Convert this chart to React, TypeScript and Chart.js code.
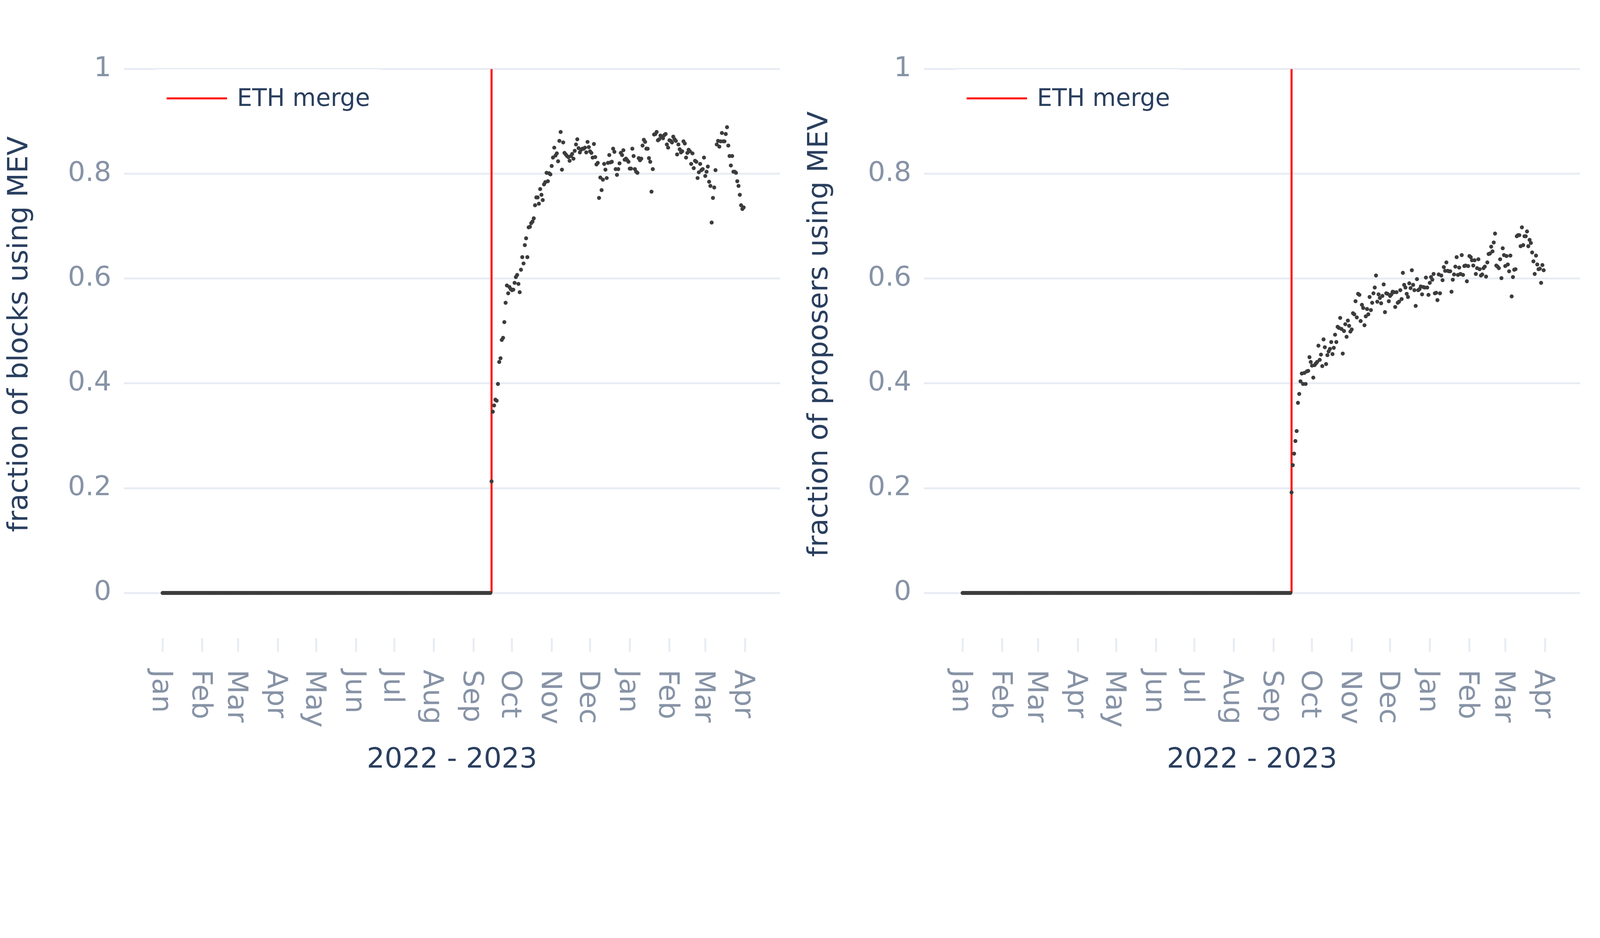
import React, { useEffect, useRef } from "react";
import { Chart, registerables } from "chart.js";

Chart.register(...registerables);

const FONT = '"DejaVu Sans", sans-serif';
const TICK_COLOR = "#8793a6";
const TITLE_COLOR = "#2a3f5f";
const GRID_COLOR = "#e8ecf4";
const DOT_COLOR = "#3c3c3c";

// x values are days counted from 2022-01-01
const MONTH_LABELS = ["Jan", "Feb", "Mar", "Apr", "May", "Jun", "Jul", "Aug", "Sep", "Oct", "Nov", "Dec", "Jan", "Feb", "Mar", "Apr"];
const MONTH_TICKS = [0, 31, 59, 90, 120, 151, 181, 212, 243, 273, 304, 334, 365, 396, 424, 455];
const Y_TICKS = [0, 0.2, 0.4, 0.6, 0.8, 1];
const X_TITLE = "2022 - 2023";
const MERGE_LABEL = "ETH merge";
const MERGE_DAY = 257; // 2022-09-15

// no MEV at all before the merge: one zero per day
const preMerge = new Array(MERGE_DAY).fill(0);

// daily values from the merge day on
const blocksAfterMerge = [
  0.213, 0.346, 0.358, 0.369, 0.367, 0.399, 0.441, 0.448, 0.483, 0.487,
  0.517, 0.554, 0.587, 0.572, 0.584, 0.58, 0.578, 0.579, 0.592, 0.603,
  0.607, 0.59, 0.574, 0.617, 0.641, 0.629, 0.664, 0.677, 0.641, 0.698,
  0.699, 0.706, 0.709, 0.715, 0.74, 0.755, 0.755, 0.743, 0.771, 0.76,
  0.75, 0.78, 0.784, 0.802, 0.786, 0.801, 0.799, 0.815, 0.831, 0.85,
  0.835, 0.839, 0.824, 0.863, 0.88, 0.808, 0.86, 0.84, 0.837, 0.834,
  0.832, 0.825, 0.834, 0.838, 0.829, 0.844, 0.856, 0.866, 0.849, 0.841,
  0.846, 0.848, 0.848, 0.85, 0.841, 0.861, 0.851, 0.843, 0.84, 0.831,
  0.857, 0.832, 0.818, 0.821, 0.754, 0.793, 0.769, 0.789, 0.819, 0.808,
  0.792, 0.821, 0.836, 0.822, 0.823, 0.848, 0.842, 0.809, 0.798, 0.809,
  0.82, 0.84, 0.836, 0.845, 0.827, 0.829, 0.826, 0.823, 0.81, 0.81,
  0.848, 0.834, 0.809, 0.804, 0.802, 0.83, 0.826, 0.829, 0.854, 0.865,
  0.861, 0.848, 0.848, 0.83, 0.823, 0.766, 0.809, 0.875, 0.876, 0.88,
  0.864, 0.866, 0.873, 0.871, 0.868, 0.874, 0.876, 0.856, 0.85, 0.864,
  0.863, 0.86, 0.871, 0.866, 0.863, 0.837, 0.856, 0.847, 0.841, 0.843,
  0.862, 0.858, 0.831, 0.84, 0.846, 0.843, 0.819, 0.839, 0.811, 0.825,
  0.823, 0.792, 0.803, 0.819, 0.807, 0.809, 0.831, 0.796, 0.804, 0.814,
  0.785, 0.777, 0.707, 0.754, 0.774, 0.807, 0.856, 0.863, 0.852, 0.862,
  0.878, 0.862, 0.862, 0.876, 0.889, 0.854, 0.834, 0.816, 0.834, 0.804,
  0.804, 0.802, 0.786, 0.777, 0.76, 0.74, 0.733, 0.736,
];

const proposersAfterMerge = [
  0.192, 0.244, 0.266, 0.29, 0.309, 0.363, 0.38, 0.404, 0.419, 0.399,
  0.42, 0.399, 0.423, 0.424, 0.45, 0.441, 0.434, 0.411, 0.435, 0.438,
  0.441, 0.472, 0.445, 0.455, 0.433, 0.484, 0.469, 0.437, 0.454, 0.461,
  0.466, 0.479, 0.456, 0.468, 0.493, 0.479, 0.508, 0.506, 0.525, 0.504,
  0.457, 0.5, 0.513, 0.489, 0.52, 0.51, 0.499, 0.503, 0.534, 0.532,
  0.557, 0.526, 0.571, 0.569, 0.519, 0.55, 0.544, 0.511, 0.528, 0.542,
  0.532, 0.565, 0.54, 0.554, 0.572, 0.583, 0.606, 0.556, 0.57, 0.563,
  0.553, 0.567, 0.589, 0.536, 0.572, 0.571, 0.557, 0.567, 0.57, 0.575,
  0.574, 0.546, 0.574, 0.554, 0.556, 0.578, 0.561, 0.611, 0.588, 0.583,
  0.571, 0.565, 0.591, 0.582, 0.616, 0.588, 0.578, 0.548, 0.599, 0.578,
  0.58, 0.585, 0.57, 0.584, 0.583, 0.602, 0.583, 0.569, 0.592, 0.603,
  0.598, 0.609, 0.572, 0.573, 0.559, 0.608, 0.572, 0.606, 0.597, 0.622,
  0.615, 0.631, 0.615, 0.614, 0.614, 0.575, 0.598, 0.608, 0.623, 0.641,
  0.607, 0.621, 0.609, 0.645, 0.607, 0.624, 0.625, 0.595, 0.624, 0.643,
  0.641, 0.635, 0.625, 0.635, 0.609, 0.62, 0.637, 0.618, 0.606, 0.608,
  0.62, 0.623, 0.604, 0.631, 0.647, 0.648, 0.661, 0.652, 0.669, 0.686,
  0.625, 0.623, 0.62, 0.637, 0.601, 0.658, 0.645, 0.624, 0.643, 0.627,
  0.614, 0.644, 0.566, 0.603, 0.617, 0.618, 0.681, 0.683, 0.683, 0.662,
  0.698, 0.664, 0.681, 0.681, 0.69, 0.662, 0.674, 0.668, 0.65, 0.633,
  0.609, 0.644, 0.627, 0.618, 0.619, 0.592, 0.626, 0.616,
];

// month labels read top-to-bottom and the legend sits inside the plot
const makeOverlay = (k: number) => ({
  id: "overlay",
  afterDraw(chart: any) {
    const { ctx, chartArea } = chart;
    const xScale = chart.scales.x;
    const yScale = chart.scales.y;

    ctx.save();
    ctx.font = `${84 * k}px ${FONT}`;
    ctx.fillStyle = TICK_COLOR;
    ctx.textAlign = "left";
    ctx.textBaseline = "middle";
    MONTH_TICKS.forEach((day, i) => {
      const px = xScale.getPixelForValue(day);
      ctx.save();
      ctx.translate(px - 8 * k, chartArea.bottom + 94 * k);
      ctx.rotate(Math.PI / 2);
      ctx.fillText(MONTH_LABELS[i], 0, 0);
      ctx.restore();
    });

    const merge = chart.data.datasets[1];
    const top = yScale.getPixelForValue(1) + 1 * k;
    const left = chartArea.left + 97 * k;
    ctx.fillStyle = "#ffffff";
    ctx.fillRect(left, top, 672 * k, 176 * k);
    ctx.strokeStyle = merge.borderColor;
    ctx.lineWidth = 6 * k;
    ctx.beginPath();
    ctx.moveTo(left + 31 * k, top + 87 * k);
    ctx.lineTo(left + 212 * k, top + 87 * k);
    ctx.stroke();
    ctx.font = `${72 * k}px ${FONT}`;
    ctx.fillStyle = TITLE_COLOR;
    ctx.fillText(merge.label, left + 242 * k, top + 91 * k);
    ctx.restore();
  },
});

type PanelProps = { yTitle: string; afterMerge: number[]; k: number };

const Panel: React.FC<PanelProps> = ({ yTitle, afterMerge, k }) => {
  const canvasRef = useRef<HTMLCanvasElement | null>(null);

  useEffect(() => {
    if (!canvasRef.current) return;
    const points = [...preMerge, ...afterMerge].map((v, i) => ({ x: i, y: v }));

    const chart = new Chart(canvasRef.current, {
      type: "scatter",
      data: {
        datasets: [
          {
            label: yTitle,
            data: points,
            pointRadius: 6 * k,
            pointBorderWidth: 0,
            pointBackgroundColor: DOT_COLOR,
            order: 0,
          },
          {
            label: MERGE_LABEL,
            data: [
              { x: MERGE_DAY, y: 0 },
              { x: MERGE_DAY, y: 1 },
            ],
            showLine: true,
            borderColor: "#ff0000",
            borderWidth: 6 * k,
            pointRadius: 0,
            order: 1,
          },
        ],
      },
      options: {
        animation: false,
        responsive: true,
        maintainAspectRatio: false,
        events: [],
        layout: { padding: { top: 90 * k, right: 60 * k, left: 0, bottom: 0 } },
        plugins: { legend: { display: false }, tooltip: { enabled: false } },
        scales: {
          x: {
            type: "linear",
            min: -30.2,
            max: 482.4,
            afterBuildTicks: (axis: any) => {
              axis.ticks = MONTH_TICKS.map((value) => ({ value }));
            },
            afterFit: (axis: any) => {
              axis.height = 486 * k;
            },
            ticks: { display: false },
            grid: {
              drawOnChartArea: false,
              drawTicks: true,
              tickLength: 40 * k,
              tickWidth: 6 * k,
              tickColor: GRID_COLOR,
            },
            border: { display: false },
            title: {
              display: true,
              text: X_TITLE,
              color: TITLE_COLOR,
              font: { family: FONT, size: 84 * k },
              padding: { top: 0, bottom: 70 * k },
            },
          },
          y: {
            min: -0.0866,
            max: 1.0745,
            afterBuildTicks: (axis: any) => {
              axis.ticks = Y_TICKS.map((value) => ({ value }));
            },
            afterFit: (axis: any) => {
              axis.width = 372 * k;
            },
            ticks: {
              color: TICK_COLOR,
              font: { family: FONT, size: 82 * k },
              padding: 38 * k,
              callback: (value: any) => `${value}`,
            },
            grid: { color: GRID_COLOR, lineWidth: 6 * k, drawTicks: false },
            border: { display: false },
            title: {
              display: true,
              text: yTitle,
              color: TITLE_COLOR,
              font: { family: FONT, size: 84 * k },
              padding: { top: 10 * k, bottom: 0 },
            },
          },
        },
      },
      plugins: [makeOverlay(k)],
    });

    return () => {
      chart.destroy();
    };
  }, [yTitle, afterMerge, k]);

  return (
    <div style={{ position: "relative", width: 2400 * k, height: 2400 * k }}>
      <canvas ref={canvasRef} />
    </div>
  );
};

export default function App() {
  // the page may be narrower than 4800 css px: scale the whole layout to fit
  const k = Math.min(window.innerWidth / 4800, window.innerHeight / 2400);
  return (
    <div
      style={{
        position: "absolute",
        left: 0,
        top: 0,
        width: 4800 * k,
        height: 2400 * k,
        display: "flex",
        background: "#ffffff",
      }}
    >
      <Panel yTitle="fraction of blocks using MEV" afterMerge={blocksAfterMerge} k={k} />
      <Panel yTitle="fraction of proposers using MEV" afterMerge={proposersAfterMerge} k={k} />
    </div>
  );
}
